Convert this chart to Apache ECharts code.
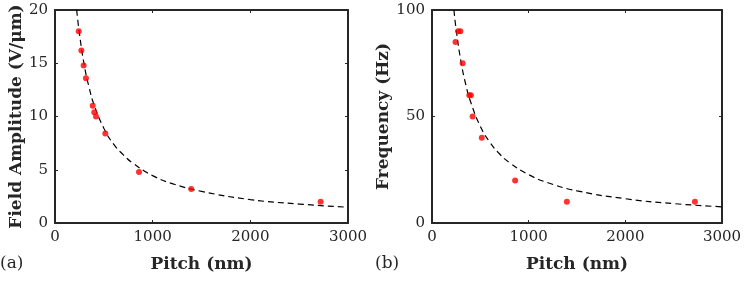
<!DOCTYPE html>
<html>
<head>
<meta charset="utf-8">
<script src="https://cdn.jsdelivr.net/npm/echarts@6/dist/echarts.min.js"></script>
<style>
  html, body { margin: 0; padding: 0; background: #fff; }
  #chart { width: 746px; height: 283px; }
</style>
</head>
<body>
<div id="chart"></div>
<script>
// pitch (nm) of the measured samples, shared by both panels
const pitch = [243, 270, 293, 317, 386, 402, 420, 515, 860, 1395, 2720];
// (a) field amplitude (V/um)
const fieldAmp = [18.0, 16.2, 14.8, 13.6, 11.0, 10.4, 10.0, 8.4, 4.8, 3.2, 2.0];
// (b) frequency (Hz)
const freq = [85, 90, 90, 75, 60, 60, 50, 40, 20, 10, 10];

// dashed fit curves
const fitPitch = [222, 250, 300, 350, 400, 500, 600, 700, 800, 1000, 1200, 1500, 2000, 2500, 3000];
const fitAmp = [20, 17.8, 14.8, 12.7, 11.1, 8.9, 7.4, 6.4, 5.6, 4.45, 3.7, 2.97, 2.2, 1.78, 1.48];
const fitPitchB = [227, 250, 300, 350, 400, 500, 600, 700, 800, 1000, 1200, 1500, 2000, 2500, 3000];
const fitFreq = [100, 90.8, 75.7, 64.9, 56.8, 45.4, 37.8, 32.4, 28.4, 22.7, 18.9, 15.1, 11.4, 9.1, 7.6];

const xTicks = [0, 1000, 2000, 3000];
const ampTicks = [0, 5, 10, 15, 20];
const freqTicks = [0, 50, 100];

const dark = '#262626';
const serif = 'DejaVu Serif';

const zip = (a, b) => a.map((v, i) => [v, b[i]]);

const line = { show: true, onZero: false, lineStyle: { color: dark, width: 2 } };
const tick = { show: true, inside: true, length: 3, lineStyle: { color: dark } };

function xAxisOf(grid, mirror) {
    return {
        type: 'value', gridIndex: grid, position: mirror ? 'top' : 'bottom',
        min: xTicks[0], max: xTicks[xTicks.length - 1], interval: xTicks[1] - xTicks[0],
        name: mirror ? '' : 'Pitch (nm)', nameLocation: 'middle', nameGap: 33,
        nameTextStyle: { fontFamily: serif, fontWeight: 'bold', fontSize: 17, color: dark },
        axisLine: line, axisTick: tick,
        axisLabel: { show: !mirror, fontFamily: serif, fontSize: 15, color: dark, margin: 7, formatter: v => String(v) },
        splitLine: { show: false }
    };
}
function yAxisOf(grid, ticks, name, gap, mirror) {
    return {
        type: 'value', gridIndex: grid, position: mirror ? 'right' : 'left',
        min: ticks[0], max: ticks[ticks.length - 1], interval: ticks[1] - ticks[0],
        name: mirror ? '' : name, nameLocation: 'middle', nameGap: gap,
        nameTextStyle: { fontFamily: serif, fontWeight: 'bold', fontSize: 17, color: dark },
        axisLine: line, axisTick: tick,
        axisLabel: { show: !mirror, fontFamily: serif, fontSize: 15, color: dark, margin: 7, formatter: v => String(v) },
        splitLine: { show: false }
    };
}

const chart = echarts.init(document.getElementById('chart'));
chart.setOption({
    animation: false,
    grid: [
        { left: 55, top: 10, width: 293, height: 213 },
        { left: 432, top: 10, width: 290, height: 213 }
    ],
    xAxis: [xAxisOf(0, false), xAxisOf(0, true), xAxisOf(1, false), xAxisOf(1, true)],
    yAxis: [
        yAxisOf(0, ampTicks, 'Field Amplitude (V/μm)', 30, false),
        yAxisOf(0, ampTicks, '', 0, true),
        yAxisOf(1, freqTicks, 'Frequency (Hz)', 31, false),
        yAxisOf(1, freqTicks, '', 0, true)
    ],
    graphic: [
        { type: 'text', left: 0, top: 255, style: { text: '(a)', fontFamily: serif, fontSize: 17, fill: dark } },
        { type: 'text', left: 375, top: 255, style: { text: '(b)', fontFamily: serif, fontSize: 17, fill: dark } }
    ],
    series: [
        {
            type: 'line', xAxisIndex: 0, yAxisIndex: 0,
            data: zip(fitPitch, fitAmp), smooth: true, showSymbol: false,
            lineStyle: { color: '#000', width: 1.2, type: [6, 4] }, z: 2
        },
        {
            type: 'scatter', xAxisIndex: 0, yAxisIndex: 0,
            data: zip(pitch, fieldAmp), symbolSize: 6,
            itemStyle: { color: '#ff0000' }, z: 3
        },
        {
            type: 'line', xAxisIndex: 2, yAxisIndex: 2,
            data: zip(fitPitchB, fitFreq), smooth: true, showSymbol: false,
            lineStyle: { color: '#000', width: 1.2, type: [6, 4] }, z: 2
        },
        {
            type: 'scatter', xAxisIndex: 2, yAxisIndex: 2,
            data: zip(pitch, freq), symbolSize: 6,
            itemStyle: { color: '#ff0000' }, z: 3
        }
    ]
});
</script>
</body>
</html>
